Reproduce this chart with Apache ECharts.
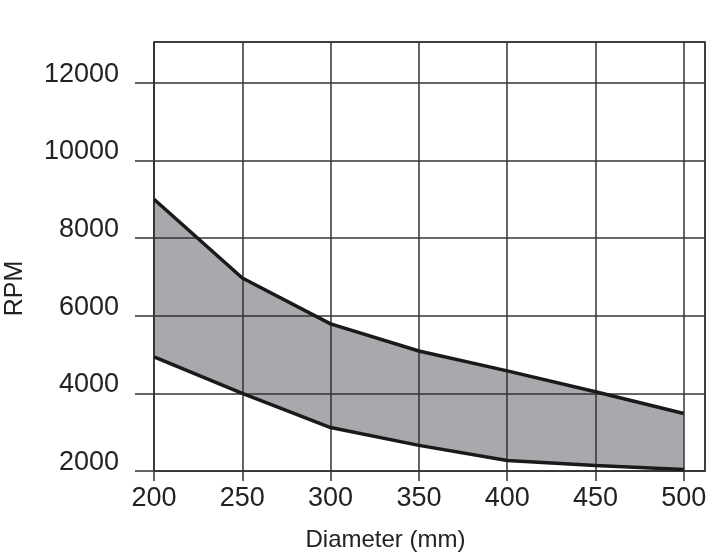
<!DOCTYPE html>
<html>
<head>
<meta charset="utf-8">
<script src="https://cdn.jsdelivr.net/npm/echarts@6/dist/echarts.min.js"></script>
<style>html,body{margin:0;padding:0;background:#fff}#c{width:713px;height:556px}</style>
</head>
<body>
<div id="c"></div>
<script>
const diameters = [200, 250, 300, 350, 400, 450, 500];
const upperRPM = [9000, 6970, 5790, 5090, 4580, 4040, 3480];
const lowerRPM = [4940, 4000, 3120, 2660, 2270, 2140, 2040];
const xTicks = [200, 250, 300, 350, 400, 450, 500];
const yTicks = [2000, 4000, 6000, 8000, 10000, 12000];

const toPairs = (vals) => diameters.map((d, i) => [d, vals[i]]);

const FONT = 'Liberation Sans';
const LINE = '#333';
const chart = echarts.init(document.getElementById('c'), null, {renderer: 'canvas'});
chart.setOption({
  animation: false,
  backgroundColor: '#fff',
  textStyle: {fontFamily: FONT},
  grid: {left: 154, right: 8, top: 42, bottom: 85, show: true, borderColor: LINE, borderWidth: 1.5,
    containLabel: false, outerBoundsMode: 'none'},
  xAxis: {
    type: 'value', min: 200, max: 512, interval: 50, z: 5,
    name: 'Diameter (mm)', nameLocation: 'middle', nameGap: 57,
    nameTextStyle: {fontSize: 24, color: '#222', fontFamily: FONT, padding: [0, 88, 0, 0]},
    axisLine: {show: true, lineStyle: {color: LINE, width: 1.5}},
    axisTick: {show: true, length: 10, lineStyle: {color: LINE, width: 1.5}},
    splitLine: {show: true, lineStyle: {color: LINE, width: 1.5}},
    axisLabel: {fontSize: 27, color: '#222', margin: 14, showMaxLabel: false,
      formatter: v => xTicks.includes(v) ? String(v) : ''}
  },
  yAxis: {
    type: 'value', min: 2000, max: 13050, interval: 2000, z: 5,
    name: 'RPM', nameLocation: 'middle', nameGap: 126, nameRotate: 90,
    nameTextStyle: {fontSize: 25, color: '#222', fontFamily: FONT, padding: [0, 64, 0, 0]},
    axisLine: {show: true, lineStyle: {color: LINE, width: 1.5}},
    axisTick: {show: true, length: 19, lineStyle: {color: LINE, width: 1.5}},
    splitLine: {show: true, lineStyle: {color: LINE, width: 1.5}},
    axisLabel: {fontSize: 27, color: '#222', margin: 35, showMaxLabel: false,
      verticalAlign: 'bottom', lineHeight: 17,
      formatter: v => yTicks.includes(v) ? String(v) : ''}
  },
  series: [
    {type: 'line', data: toPairs(upperRPM), symbol: 'none', z: 1, silent: true,
      lineStyle: {width: 0, opacity: 0}, areaStyle: {color: '#a8a9ac', opacity: 1, origin: 'start'}},
    {type: 'line', data: toPairs(lowerRPM), symbol: 'none', z: 2, silent: true,
      lineStyle: {width: 0, opacity: 0}, areaStyle: {color: '#ffffff', opacity: 1, origin: 'start'}},
    {type: 'line', data: toPairs(upperRPM), symbol: 'none', z: 10,
      lineStyle: {color: '#1a1a1a', width: 3.5}},
    {type: 'line', data: toPairs(lowerRPM), symbol: 'none', z: 10,
      lineStyle: {color: '#1a1a1a', width: 3.5}}
  ]
});
</script>
</body>
</html>
